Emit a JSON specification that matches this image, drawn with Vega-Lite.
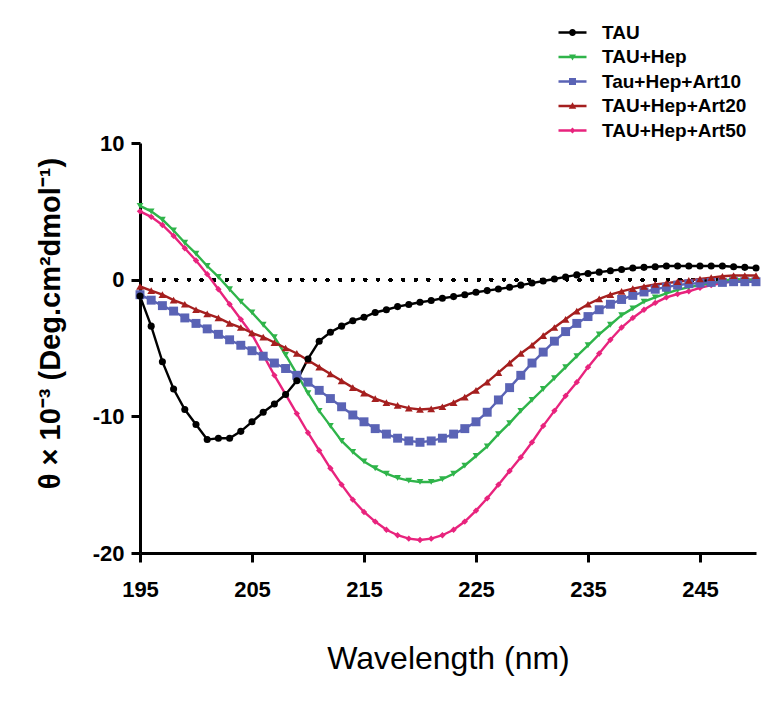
{
  "$schema": "https://vega.github.io/schema/vega-lite/v6.json",
  "width": 616,
  "height": 410,
  "autosize": {"type": "none"},
  "padding": {"left": 140, "top": 143, "right": 15, "bottom": 149},
  "config": {
    "font": "Liberation Sans",
    "view": {"stroke": null},
    "axis": {"grid": false, "domainColor": "black", "domainWidth": 3, "tickColor": "black", "tickWidth": 3, "tickSize": 9, "labelColor": "black", "labelFont": "Liberation Sans", "labelFontWeight": "bold", "labelFontSize": 22, "labelFlush": false, "titleColor": "black", "titleFont": "Liberation Sans"}
  },
  "data": {"values": [
    {"s":"TAU+Hep+Art50","w":195,"v":5.0},{"s":"TAU+Hep+Art50","w":196,"v":4.6},{"s":"TAU+Hep+Art50","w":197,"v":4.0},{"s":"TAU+Hep+Art50","w":198,"v":3.2},{"s":"TAU+Hep+Art50","w":199,"v":2.3},{"s":"TAU+Hep+Art50","w":200,"v":1.4},{"s":"TAU+Hep+Art50","w":201,"v":0.4},{"s":"TAU+Hep+Art50","w":202,"v":-0.7},{"s":"TAU+Hep+Art50","w":203,"v":-1.8},{"s":"TAU+Hep+Art50","w":204,"v":-2.9},
    {"s":"TAU+Hep+Art50","w":205,"v":-4.0},{"s":"TAU+Hep+Art50","w":206,"v":-5.5},{"s":"TAU+Hep+Art50","w":207,"v":-7.0},{"s":"TAU+Hep+Art50","w":208,"v":-8.4},{"s":"TAU+Hep+Art50","w":209,"v":-9.8},{"s":"TAU+Hep+Art50","w":210,"v":-11.2},{"s":"TAU+Hep+Art50","w":211,"v":-12.5},{"s":"TAU+Hep+Art50","w":212,"v":-13.8},{"s":"TAU+Hep+Art50","w":213,"v":-15.0},{"s":"TAU+Hep+Art50","w":214,"v":-16.1},
    {"s":"TAU+Hep+Art50","w":215,"v":-17.0},{"s":"TAU+Hep+Art50","w":216,"v":-17.7},{"s":"TAU+Hep+Art50","w":217,"v":-18.3},{"s":"TAU+Hep+Art50","w":218,"v":-18.7},{"s":"TAU+Hep+Art50","w":219,"v":-18.95},{"s":"TAU+Hep+Art50","w":220,"v":-19.05},{"s":"TAU+Hep+Art50","w":221,"v":-18.95},{"s":"TAU+Hep+Art50","w":222,"v":-18.7},{"s":"TAU+Hep+Art50","w":223,"v":-18.3},{"s":"TAU+Hep+Art50","w":224,"v":-17.7},
    {"s":"TAU+Hep+Art50","w":225,"v":-16.9},{"s":"TAU+Hep+Art50","w":226,"v":-16.0},{"s":"TAU+Hep+Art50","w":227,"v":-15.0},{"s":"TAU+Hep+Art50","w":228,"v":-14.0},{"s":"TAU+Hep+Art50","w":229,"v":-13.0},{"s":"TAU+Hep+Art50","w":230,"v":-11.9},{"s":"TAU+Hep+Art50","w":231,"v":-10.7},{"s":"TAU+Hep+Art50","w":232,"v":-9.6},{"s":"TAU+Hep+Art50","w":233,"v":-8.5},{"s":"TAU+Hep+Art50","w":234,"v":-7.5},
    {"s":"TAU+Hep+Art50","w":235,"v":-6.4},{"s":"TAU+Hep+Art50","w":236,"v":-5.4},{"s":"TAU+Hep+Art50","w":237,"v":-4.4},{"s":"TAU+Hep+Art50","w":238,"v":-3.5},{"s":"TAU+Hep+Art50","w":239,"v":-2.8},{"s":"TAU+Hep+Art50","w":240,"v":-2.2},{"s":"TAU+Hep+Art50","w":241,"v":-1.7},{"s":"TAU+Hep+Art50","w":242,"v":-1.3},{"s":"TAU+Hep+Art50","w":243,"v":-1.05},{"s":"TAU+Hep+Art50","w":244,"v":-0.85},
    {"s":"TAU+Hep+Art50","w":245,"v":-0.6},{"s":"TAU+Hep+Art50","w":246,"v":-0.4},{"s":"TAU+Hep+Art50","w":247,"v":-0.25},{"s":"TAU+Hep+Art50","w":248,"v":-0.1},{"s":"TAU+Hep+Art50","w":249,"v":0.0},{"s":"TAU+Hep+Art50","w":250,"v":0.0},

    {"s":"TAU+Hep","w":195,"v":5.4},{"s":"TAU+Hep","w":196,"v":5.0},{"s":"TAU+Hep","w":197,"v":4.4},{"s":"TAU+Hep","w":198,"v":3.6},{"s":"TAU+Hep","w":199,"v":2.7},{"s":"TAU+Hep","w":200,"v":1.9},{"s":"TAU+Hep","w":201,"v":1.0},{"s":"TAU+Hep","w":202,"v":0.2},{"s":"TAU+Hep","w":203,"v":-0.7},{"s":"TAU+Hep","w":204,"v":-1.6},
    {"s":"TAU+Hep","w":205,"v":-2.4},{"s":"TAU+Hep","w":206,"v":-3.3},{"s":"TAU+Hep","w":207,"v":-4.2},{"s":"TAU+Hep","w":208,"v":-5.5},{"s":"TAU+Hep","w":209,"v":-6.9},{"s":"TAU+Hep","w":210,"v":-8.3},{"s":"TAU+Hep","w":211,"v":-9.6},{"s":"TAU+Hep","w":212,"v":-10.7},{"s":"TAU+Hep","w":213,"v":-11.8},{"s":"TAU+Hep","w":214,"v":-12.6},
    {"s":"TAU+Hep","w":215,"v":-13.3},{"s":"TAU+Hep","w":216,"v":-13.8},{"s":"TAU+Hep","w":217,"v":-14.2},{"s":"TAU+Hep","w":218,"v":-14.5},{"s":"TAU+Hep","w":219,"v":-14.7},{"s":"TAU+Hep","w":220,"v":-14.8},{"s":"TAU+Hep","w":221,"v":-14.8},{"s":"TAU+Hep","w":222,"v":-14.6},{"s":"TAU+Hep","w":223,"v":-14.2},{"s":"TAU+Hep","w":224,"v":-13.6},
    {"s":"TAU+Hep","w":225,"v":-12.9},{"s":"TAU+Hep","w":226,"v":-12.2},{"s":"TAU+Hep","w":227,"v":-11.3},{"s":"TAU+Hep","w":228,"v":-10.5},{"s":"TAU+Hep","w":229,"v":-9.6},{"s":"TAU+Hep","w":230,"v":-8.8},{"s":"TAU+Hep","w":231,"v":-8.0},{"s":"TAU+Hep","w":232,"v":-7.2},{"s":"TAU+Hep","w":233,"v":-6.4},{"s":"TAU+Hep","w":234,"v":-5.6},
    {"s":"TAU+Hep","w":235,"v":-4.8},{"s":"TAU+Hep","w":236,"v":-4.0},{"s":"TAU+Hep","w":237,"v":-3.3},{"s":"TAU+Hep","w":238,"v":-2.6},{"s":"TAU+Hep","w":239,"v":-2.1},{"s":"TAU+Hep","w":240,"v":-1.6},{"s":"TAU+Hep","w":241,"v":-1.3},{"s":"TAU+Hep","w":242,"v":-1.0},{"s":"TAU+Hep","w":243,"v":-0.75},{"s":"TAU+Hep","w":244,"v":-0.55},
    {"s":"TAU+Hep","w":245,"v":-0.4},{"s":"TAU+Hep","w":246,"v":-0.25},{"s":"TAU+Hep","w":247,"v":-0.1},{"s":"TAU+Hep","w":248,"v":0.05},{"s":"TAU+Hep","w":249,"v":0.0},{"s":"TAU+Hep","w":250,"v":0.0},

    {"s":"Tau+Hep+Art10","w":195,"v":-1.1},{"s":"Tau+Hep+Art10","w":196,"v":-1.5},{"s":"Tau+Hep+Art10","w":197,"v":-1.9},{"s":"Tau+Hep+Art10","w":198,"v":-2.3},{"s":"Tau+Hep+Art10","w":199,"v":-2.8},{"s":"Tau+Hep+Art10","w":200,"v":-3.2},{"s":"Tau+Hep+Art10","w":201,"v":-3.6},{"s":"Tau+Hep+Art10","w":202,"v":-4.0},{"s":"Tau+Hep+Art10","w":203,"v":-4.4},{"s":"Tau+Hep+Art10","w":204,"v":-4.8},
    {"s":"Tau+Hep+Art10","w":205,"v":-5.2},{"s":"Tau+Hep+Art10","w":206,"v":-5.6},{"s":"Tau+Hep+Art10","w":207,"v":-6.1},{"s":"Tau+Hep+Art10","w":208,"v":-6.5},{"s":"Tau+Hep+Art10","w":209,"v":-7.0},{"s":"Tau+Hep+Art10","w":210,"v":-7.5},{"s":"Tau+Hep+Art10","w":211,"v":-8.1},{"s":"Tau+Hep+Art10","w":212,"v":-8.7},{"s":"Tau+Hep+Art10","w":213,"v":-9.3},{"s":"Tau+Hep+Art10","w":214,"v":-9.9},
    {"s":"Tau+Hep+Art10","w":215,"v":-10.4},{"s":"Tau+Hep+Art10","w":216,"v":-10.9},{"s":"Tau+Hep+Art10","w":217,"v":-11.3},{"s":"Tau+Hep+Art10","w":218,"v":-11.6},{"s":"Tau+Hep+Art10","w":219,"v":-11.8},{"s":"Tau+Hep+Art10","w":220,"v":-11.9},{"s":"Tau+Hep+Art10","w":221,"v":-11.8},{"s":"Tau+Hep+Art10","w":222,"v":-11.6},{"s":"Tau+Hep+Art10","w":223,"v":-11.3},{"s":"Tau+Hep+Art10","w":224,"v":-10.9},
    {"s":"Tau+Hep+Art10","w":225,"v":-10.4},{"s":"Tau+Hep+Art10","w":226,"v":-9.7},{"s":"Tau+Hep+Art10","w":227,"v":-8.8},{"s":"Tau+Hep+Art10","w":228,"v":-7.9},{"s":"Tau+Hep+Art10","w":229,"v":-7.0},{"s":"Tau+Hep+Art10","w":230,"v":-6.1},{"s":"Tau+Hep+Art10","w":231,"v":-5.3},{"s":"Tau+Hep+Art10","w":232,"v":-4.5},{"s":"Tau+Hep+Art10","w":233,"v":-3.8},{"s":"Tau+Hep+Art10","w":234,"v":-3.2},
    {"s":"Tau+Hep+Art10","w":235,"v":-2.7},{"s":"Tau+Hep+Art10","w":236,"v":-2.2},{"s":"Tau+Hep+Art10","w":237,"v":-1.8},{"s":"Tau+Hep+Art10","w":238,"v":-1.45},{"s":"Tau+Hep+Art10","w":239,"v":-1.15},{"s":"Tau+Hep+Art10","w":240,"v":-0.9},{"s":"Tau+Hep+Art10","w":241,"v":-0.7},{"s":"Tau+Hep+Art10","w":242,"v":-0.55},{"s":"Tau+Hep+Art10","w":243,"v":-0.4},{"s":"Tau+Hep+Art10","w":244,"v":-0.3},
    {"s":"Tau+Hep+Art10","w":245,"v":-0.25},{"s":"Tau+Hep+Art10","w":246,"v":-0.2},{"s":"Tau+Hep+Art10","w":247,"v":-0.2},{"s":"Tau+Hep+Art10","w":248,"v":-0.15},{"s":"Tau+Hep+Art10","w":249,"v":-0.15},{"s":"Tau+Hep+Art10","w":250,"v":-0.15},

    {"s":"TAU+Hep+Art20","w":195,"v":-0.5},{"s":"TAU+Hep+Art20","w":196,"v":-0.8},{"s":"TAU+Hep+Art20","w":197,"v":-1.1},{"s":"TAU+Hep+Art20","w":198,"v":-1.5},{"s":"TAU+Hep+Art20","w":199,"v":-1.8},{"s":"TAU+Hep+Art20","w":200,"v":-2.2},{"s":"TAU+Hep+Art20","w":201,"v":-2.5},{"s":"TAU+Hep+Art20","w":202,"v":-2.8},{"s":"TAU+Hep+Art20","w":203,"v":-3.2},{"s":"TAU+Hep+Art20","w":204,"v":-3.5},
    {"s":"TAU+Hep+Art20","w":205,"v":-3.9},{"s":"TAU+Hep+Art20","w":206,"v":-4.2},{"s":"TAU+Hep+Art20","w":207,"v":-4.6},{"s":"TAU+Hep+Art20","w":208,"v":-5.0},{"s":"TAU+Hep+Art20","w":209,"v":-5.4},{"s":"TAU+Hep+Art20","w":210,"v":-5.9},{"s":"TAU+Hep+Art20","w":211,"v":-6.4},{"s":"TAU+Hep+Art20","w":212,"v":-6.9},{"s":"TAU+Hep+Art20","w":213,"v":-7.4},{"s":"TAU+Hep+Art20","w":214,"v":-7.9},
    {"s":"TAU+Hep+Art20","w":215,"v":-8.3},{"s":"TAU+Hep+Art20","w":216,"v":-8.7},{"s":"TAU+Hep+Art20","w":217,"v":-9.0},{"s":"TAU+Hep+Art20","w":218,"v":-9.2},{"s":"TAU+Hep+Art20","w":219,"v":-9.4},{"s":"TAU+Hep+Art20","w":220,"v":-9.5},{"s":"TAU+Hep+Art20","w":221,"v":-9.45},{"s":"TAU+Hep+Art20","w":222,"v":-9.3},{"s":"TAU+Hep+Art20","w":223,"v":-9.0},{"s":"TAU+Hep+Art20","w":224,"v":-8.6},
    {"s":"TAU+Hep+Art20","w":225,"v":-8.1},{"s":"TAU+Hep+Art20","w":226,"v":-7.5},{"s":"TAU+Hep+Art20","w":227,"v":-6.8},{"s":"TAU+Hep+Art20","w":228,"v":-6.1},{"s":"TAU+Hep+Art20","w":229,"v":-5.4},{"s":"TAU+Hep+Art20","w":230,"v":-4.8},{"s":"TAU+Hep+Art20","w":231,"v":-4.1},{"s":"TAU+Hep+Art20","w":232,"v":-3.5},{"s":"TAU+Hep+Art20","w":233,"v":-2.9},{"s":"TAU+Hep+Art20","w":234,"v":-2.3},
    {"s":"TAU+Hep+Art20","w":235,"v":-1.8},{"s":"TAU+Hep+Art20","w":236,"v":-1.4},{"s":"TAU+Hep+Art20","w":237,"v":-1.1},{"s":"TAU+Hep+Art20","w":238,"v":-0.85},{"s":"TAU+Hep+Art20","w":239,"v":-0.65},{"s":"TAU+Hep+Art20","w":240,"v":-0.5},{"s":"TAU+Hep+Art20","w":241,"v":-0.35},{"s":"TAU+Hep+Art20","w":242,"v":-0.25},{"s":"TAU+Hep+Art20","w":243,"v":-0.15},{"s":"TAU+Hep+Art20","w":244,"v":-0.05},
    {"s":"TAU+Hep+Art20","w":245,"v":0.05},{"s":"TAU+Hep+Art20","w":246,"v":0.15},{"s":"TAU+Hep+Art20","w":247,"v":0.25},{"s":"TAU+Hep+Art20","w":248,"v":0.3},{"s":"TAU+Hep+Art20","w":249,"v":0.3},{"s":"TAU+Hep+Art20","w":250,"v":0.3},

    {"s":"TAU","w":195,"v":-1.2},{"s":"TAU","w":196,"v":-3.4},{"s":"TAU","w":197,"v":-6.0},{"s":"TAU","w":198,"v":-8.0},{"s":"TAU","w":199,"v":-9.5},{"s":"TAU","w":200,"v":-10.6},{"s":"TAU","w":201,"v":-11.7},{"s":"TAU","w":202,"v":-11.6},{"s":"TAU","w":203,"v":-11.6},{"s":"TAU","w":204,"v":-11.1},
    {"s":"TAU","w":205,"v":-10.4},{"s":"TAU","w":206,"v":-9.7},{"s":"TAU","w":207,"v":-9.1},{"s":"TAU","w":208,"v":-8.4},{"s":"TAU","w":209,"v":-7.4},{"s":"TAU","w":210,"v":-5.8},{"s":"TAU","w":211,"v":-4.5},{"s":"TAU","w":212,"v":-3.85},{"s":"TAU","w":213,"v":-3.4},{"s":"TAU","w":214,"v":-3.0},
    {"s":"TAU","w":215,"v":-2.75},{"s":"TAU","w":216,"v":-2.4},{"s":"TAU","w":217,"v":-2.2},{"s":"TAU","w":218,"v":-1.97},{"s":"TAU","w":219,"v":-1.82},{"s":"TAU","w":220,"v":-1.65},{"s":"TAU","w":221,"v":-1.53},{"s":"TAU","w":222,"v":-1.36},{"s":"TAU","w":223,"v":-1.24},{"s":"TAU","w":224,"v":-1.1},
    {"s":"TAU","w":225,"v":-0.92},{"s":"TAU","w":226,"v":-0.8},{"s":"TAU","w":227,"v":-0.68},{"s":"TAU","w":228,"v":-0.56},{"s":"TAU","w":229,"v":-0.4},{"s":"TAU","w":230,"v":-0.25},{"s":"TAU","w":231,"v":-0.1},{"s":"TAU","w":232,"v":0.05},{"s":"TAU","w":233,"v":0.2},{"s":"TAU","w":234,"v":0.35},
    {"s":"TAU","w":235,"v":0.45},{"s":"TAU","w":236,"v":0.55},{"s":"TAU","w":237,"v":0.65},{"s":"TAU","w":238,"v":0.75},{"s":"TAU","w":239,"v":0.85},{"s":"TAU","w":240,"v":0.9},{"s":"TAU","w":241,"v":0.95},{"s":"TAU","w":242,"v":1.0},{"s":"TAU","w":243,"v":1.0},{"s":"TAU","w":244,"v":1.0},
    {"s":"TAU","w":245,"v":1.0},{"s":"TAU","w":246,"v":1.0},{"s":"TAU","w":247,"v":1.0},{"s":"TAU","w":248,"v":0.95},{"s":"TAU","w":249,"v":0.9},{"s":"TAU","w":250,"v":0.85}
  ]},
  "layer": [
    {
      "mark": {"type": "rule", "color": "black", "strokeWidth": 3.5, "strokeDash": [0.1, 12.5], "strokeCap": "round"},
      "encoding": {"y": {"datum": 0, "type": "quantitative", "scale": {"domain": [-20, 10]}}}
    },
    {
      "mark": {"type": "line", "strokeWidth": 2.4},
      "encoding": {
        "x": {"field": "w", "type": "quantitative", "scale": {"domain": [195, 250], "nice": false, "zero": false},
              "axis": {"values": [195, 205, 215, 225, 235, 245], "title": "Wavelength (nm)", "titleFontSize": 32, "titleFontWeight": "normal", "titlePadding": 43, "labelPadding": 17}},
        "y": {"field": "v", "type": "quantitative", "scale": {"domain": [-20, 10], "nice": false},
              "axis": {"values": [-20, -10, 0, 10], "labelExpr": "replace(datum.label, '−', '-')", "title": "θ × 10⁻³ (Deg.cm²dmol⁻¹)", "titleFontSize": 29, "titleFontWeight": "bold", "titlePadding": 27, "titleY": 180, "labelPadding": 7}},
        "color": {"field": "s", "type": "nominal",
                  "scale": {"domain": ["TAU", "TAU+Hep", "Tau+Hep+Art10", "TAU+Hep+Art20", "TAU+Hep+Art50"],
                            "range": ["#000000", "#2fb44a", "#5a63b5", "#a51f1f", "#e8237d"]},
                  "legend": {"orient": "none", "legendX": 423, "legendY": -120, "title": null, "padding": 0,
                             "labelFont": "Liberation Sans", "labelFontSize": 19, "labelFontWeight": "bold", "labelColor": "black", "labelOffset": 20,
                             "symbolSize": 100, "rowPadding": 4.5,
                             "encode": {"symbols": {"update": {
                               "shape": {"signal": "datum.value === 'TAU' ? 'M-2.8,-0.24H2.8V0.24H-2.8ZM-0.7,0A0.7,0.7,0,1,1,0.7,0A0.7,0.7,0,1,1,-0.7,0Z' : datum.value === 'TAU+Hep' ? 'M-2.8,-0.24H2.8V0.24H-2.8ZM-0.7,-0.5H0.7L0,0.7Z' : datum.value === 'Tau+Hep+Art10' ? 'M-2.8,-0.24H2.8V0.24H-2.8ZM-0.7,-0.7H0.7V0.7H-0.7Z' : datum.value === 'TAU+Hep+Art20' ? 'M-2.8,-0.24H2.8V0.24H-2.8ZM-0.75,0.55L0,-0.75L0.75,0.55Z' : 'M-2.8,-0.24H2.8V0.24H-2.8ZM-0.6,0L0,-0.6L0.6,0L0,0.6Z'"},
                               "fill": {"scale": "color", "field": "value"},
                               "stroke": {"scale": "color", "field": "value"},
                               "strokeWidth": {"value": 0},
                               "opacity": {"value": 1}
                             }}}}}
      }
    },
    {
      "transform": [{"filter": "datum.s === 'TAU+Hep+Art50'"}],
      "mark": {"type": "point", "filled": true, "opacity": 1, "shape": "diamond", "size": 40},
      "encoding": {"x": {"field": "w", "type": "quantitative"}, "y": {"field": "v", "type": "quantitative"}, "color": {"field": "s", "type": "nominal", "legend": null}}
    },
    {
      "transform": [{"filter": "datum.s === 'TAU+Hep'"}],
      "mark": {"type": "point", "filled": true, "opacity": 1, "shape": "triangle-down", "size": 45},
      "encoding": {"x": {"field": "w", "type": "quantitative"}, "y": {"field": "v", "type": "quantitative"}, "color": {"field": "s", "type": "nominal", "legend": null}}
    },
    {
      "transform": [{"filter": "datum.s === 'Tau+Hep+Art10'"}],
      "mark": {"type": "point", "filled": true, "opacity": 1, "shape": "square", "size": 80},
      "encoding": {"x": {"field": "w", "type": "quantitative"}, "y": {"field": "v", "type": "quantitative"}, "color": {"field": "s", "type": "nominal", "legend": null}}
    },
    {
      "transform": [{"filter": "datum.s === 'TAU+Hep+Art20'"}],
      "mark": {"type": "point", "filled": true, "opacity": 1, "shape": "triangle-up", "size": 60},
      "encoding": {"x": {"field": "w", "type": "quantitative"}, "y": {"field": "v", "type": "quantitative"}, "color": {"field": "s", "type": "nominal", "legend": null}}
    },
    {
      "transform": [{"filter": "datum.s === 'TAU'"}],
      "mark": {"type": "point", "filled": true, "opacity": 1, "shape": "circle", "size": 50},
      "encoding": {"x": {"field": "w", "type": "quantitative"}, "y": {"field": "v", "type": "quantitative"}, "color": {"field": "s", "type": "nominal", "legend": null}}
    }
  ]
}
